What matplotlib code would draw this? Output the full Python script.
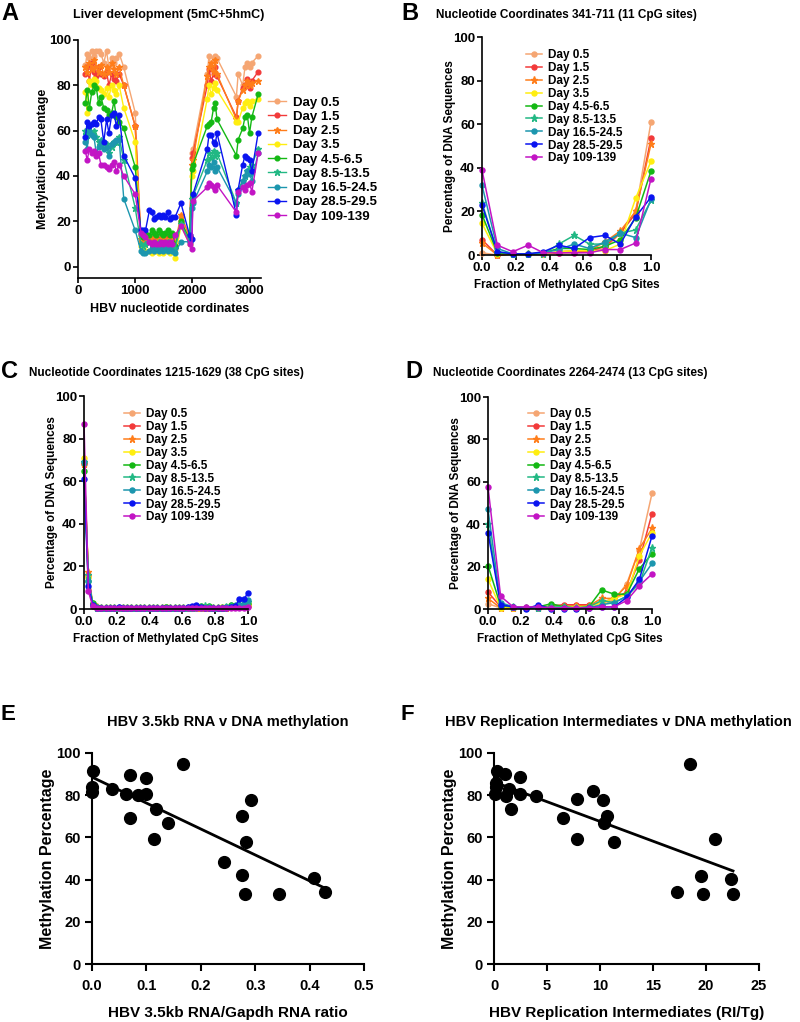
import numpy as np
import matplotlib
matplotlib.use('Agg')
import matplotlib.pyplot as plt

plt.rcParams['font.family'] = ['Liberation Sans', 'DejaVu Sans']
plt.rcParams['font.weight'] = 'bold'
plt.rcParams['axes.labelweight'] = 'bold'

W, H = 800, 1022

# ---- shared series info ----
day_labels = ['Day 0.5', 'Day 1.5', 'Day 2.5', 'Day 3.5', 'Day 4.5-6.5',
              'Day 8.5-13.5', 'Day 16.5-24.5', 'Day 28.5-29.5', 'Day 109-139']
day_colors = ['#f5a673', '#f23a3a', '#ff7d1a', '#ffee10', '#14b814',
              '#22b884', '#1c96ae', '#0a14f0', '#c214c4']
day_markers = ['o', 'o', '*', 'o', 'o', '*', 'o', 'o', 'o']

# ---- panel A: methylation along the HBV genome ----
a_pos = [130, 160, 200, 240, 280, 320, 360, 400, 450, 500, 540, 590, 630, 670, 720,
         800, 1000,
         1100, 1140, 1180, 1250, 1290, 1330, 1370, 1410, 1450, 1490, 1530, 1570, 1610, 1650, 1700,
         1800, 1950, 1990, 2010,
         2260, 2290, 2330, 2370, 2400, 2430,
         2770, 2800, 2880, 2920, 2960, 3000, 3040, 3150]

a_day05 = [89, 94, 92, 95, 93, 95, 95, 94, 90, 95, 88, 92, 90, 92, 94,
           88, 68,
           12, 11, 10, 12, 11, 11, 12, 10, 11, 10, 12, 11, 10, 11, 8,
           22, 14, 50, 52,
           85, 93, 87, 92, 93, 92,
           75, 85, 80, 88, 90, 88, 90, 93]
a_day15 = [85, 88, 82, 90, 86, 84, 88, 85, 84, 86, 80, 85, 83, 82, 85,
           80, 62,
           11, 12, 13, 12, 11, 12, 13, 12, 11, 12, 13, 12, 11, 12, 9,
           20, 12, 48, 50,
           80, 87, 82, 85, 88, 84,
           66, 73, 79, 80, 83, 79, 82, 86]
a_day25 = [88, 86, 90, 87, 91, 88, 86, 89, 85, 88, 86, 90, 87, 85, 88,
           80, 62,
           12, 13, 12, 11, 12, 13, 12, 11, 12, 13, 12, 11, 12, 13, 10,
           23, 13, 45, 47,
           84, 88, 90, 86, 91, 85,
           65, 73, 78, 80, 82, 80, 81, 82]
a_day35 = [77, 68, 82, 80, 83, 82, 79, 78, 76, 79, 75, 80, 78, 76, 80,
           70, 55,
           9, 8, 7, 7, 6, 7, 7, 6, 7, 6, 7, 7, 6, 7, 4,
           18, 10, 40, 42,
           74, 80, 76, 79, 81, 78,
           64, 64, 70, 72, 73, 71, 73, 74]
a_day45 = [72, 78, 70, 77, 80, 79, 72, 75, 70, 69, 67, 68, 73, 66, 64,
           61, 44,
           14, 13, 15, 14, 16, 15, 14, 16, 15, 14, 15, 16, 14, 15, 9,
           20, 12, 43, 45,
           62, 63, 64, 70, 72, 65,
           49, 56, 61, 66, 67, 59, 66, 76]
a_day85 = [60, 58, 62, 59, 60, 57, 55, 56, 54, 54, 50, 53, 55, 55, 57,
           47, 26,
           10, 9, 10, 11, 10, 9, 10, 11, 10, 9, 10, 11, 10, 9, 8,
           19, 11, 30, 31,
           47, 50, 48, 51, 49, 50,
           28, 34, 38, 40, 42, 44, 45, 52]
a_day165 = [55, 52, 60, 58, 57, 50, 53, 55, 52, 53, 49, 54, 55, 56, 56,
            30, 16,
            7, 6, 6, 7, 8, 7, 8, 7, 8, 7, 8, 7, 8, 7, 6,
            11, 11, 26, 28,
            42, 45, 44, 46, 42, 44,
            28, 32, 38, 40, 42, 41, 38, 50]
a_day285 = [57, 64, 62, 63, 64, 63, 66, 65, 55, 65, 59, 67, 68, 62, 67,
            49, 39,
            16, 16, 16, 25, 24, 21, 22, 23, 22, 23, 22, 24, 21, 22, 22,
            28, 14, 12, 32,
            52, 58, 58, 55, 54, 59,
            23, 34, 45, 49, 48, 47, 42, 59]
a_day109 = [51, 47, 52, 50, 51, 49, 50, 45, 45, 44, 43, 45, 46, 42, 45,
            40, 32,
            15, 14, 13, 11, 10, 11, 10, 10, 11, 10, 11, 10, 11, 10, 14,
            18, 10, 8, 29,
            35, 37, 36, 35, 34, 36,
            24, 33, 35, 34, 36, 37, 33, 50]
a_series = [a_day05, a_day15, a_day25, a_day35, a_day45,
            a_day85, a_day165, a_day285, a_day109]

# ---- panel B: 341-711, 11 CpG sites ----
b_day05 = [1, 0, 0.5, 0.5, 0.5, 1, 1, 1.5, 3, 10, 20, 61]
b_day15 = [7, 0, 0.5, 0.5, 0.5, 1, 1.5, 1.5, 4, 10, 19, 53.5]
b_day25 = [5.5, 0, 0.5, 0.5, 0.5, 1.5, 2, 2, 6, 11, 20, 51]
b_day35 = [14.5, 0.5, 0.5, 0.5, 0.5, 1.5, 2, 2, 2, 5, 26, 43]
b_day45 = [18.5, 1, 0.5, 0.5, 1, 3, 3, 2.5, 4, 7, 17, 38.5]
b_day85 = [24, 1.5, 0.5, 0.5, 0.5, 5, 9, 5, 5, 10, 11.5, 25]
b_day165 = [32, 3, 0.5, 0.5, 1, 2.5, 5, 3, 6, 10, 8, 25.5]
b_day285 = [23, 1.5, 0.5, 0.5, 1.5, 4.5, 3, 8, 9, 5, 17.5, 26.5]
b_day109 = [39, 4.5, 1.5, 4.5, 1, 1, 1, 1, 2.5, 2.5, 5.5, 35]
b_series = [b_day05, b_day15, b_day25, b_day35, b_day45,
            b_day85, b_day165, b_day285, b_day109]

# ---- panel C: 1215-1629, 38 CpG sites ----
c_day05 = [69, 15, 2, 0.5, 0.3, 0.3, 0.3, 0.3, 0.3, 0.3, 0.3, 0.3, 0.3, 0.3, 0.3, 0.3, 0.3, 0.3, 0.3, 0.8,
           0.3, 0.3, 0.3, 0.3, 0.3, 0.5, 0.5, 0.5, 0.5, 0.5, 0.5, 0.5, 0.5, 0.5, 1, 1, 1, 1.5, 1.5]
c_day15 = [68, 16, 1.5, 0.5, 0.3, 0.3, 0.3, 0.3, 0.3, 0.3, 0.3, 0.3, 0.3, 0.3, 0.3, 0.3, 0.3, 0.3, 0.3, 0.3,
           0.3, 0.3, 0.5, 0.3, 0.3, 0.5, 0.5, 0.5, 0.5, 0.5, 0.5, 0.3, 0.5, 0.5, 1, 1.5, 1, 2, 1.5]
c_day25 = [68, 17.5, 2.5, 1, 0.3, 0.3, 0.3, 0.3, 0.3, 0.3, 0.3, 0.3, 0.3, 0.3, 0.3, 0.3, 0.3, 0.3, 0.3, 0.3,
           0.3, 0.3, 0.3, 0.3, 0.3, 0.5, 0.5, 0.5, 0.5, 0.5, 0.5, 0.5, 0.5, 0.5, 1.5, 1, 1.5, 2, 2]
c_day35 = [71, 15, 2, 0.5, 0.3, 0.3, 0.3, 0.3, 0.3, 0.3, 0.3, 0.3, 0.3, 0.3, 0.3, 0.3, 0.3, 0.3, 0.3, 0.8,
           0.3, 0.3, 0.3, 0.3, 0.3, 0.5, 0.5, 0.5, 0.5, 0.5, 0.5, 0.5, 0.8, 0.5, 1, 1, 1.5, 1.5, 2]
c_day45 = [65, 13, 3, 1, 0.3, 0.3, 0.3, 0.3, 0.3, 0.3, 0.3, 0.3, 0.3, 0.3, 0.3, 0.3, 0.3, 0.3, 0.5, 1,
           0.5, 0.3, 0.3, 0.3, 0.5, 0.5, 1, 1.5, 1, 1.5, 0.5, 0.5, 0.5, 1, 2, 1.5, 2, 2.5, 3]
c_day85 = [69, 16, 2, 0.5, 0.3, 0.3, 0.3, 0.3, 0.3, 0.3, 0.3, 0.3, 0.3, 0.3, 0.3, 0.3, 0.3, 0.3, 0.3, 0.5,
           0.3, 0.3, 0.3, 0.3, 0.5, 0.5, 0.8, 1, 1.2, 1, 0.5, 0.5, 0.5, 1, 1.5, 1.5, 2, 2.5, 3.5]
c_day165 = [69, 13, 2, 0.5, 0.3, 0.3, 0.3, 0.3, 0.3, 0.3, 0.3, 0.3, 0.3, 0.3, 0.3, 0.3, 0.3, 0.3, 0.3, 0.3,
            0.3, 0.3, 0.3, 0.3, 0.5, 0.5, 0.5, 0.5, 0.5, 0.5, 0.5, 0.5, 0.5, 0.8, 1, 1.5, 2, 2.5, 4]
c_day285 = [61, 11, 2, 0.5, 0.3, 0.3, 0.3, 0.3, 0.8, 0.3, 0.3, 0.3, 0.3, 0.3, 0.3, 0.3, 0.3, 0.3, 0.3, 0.3,
            0.3, 0.3, 0.3, 0.3, 1, 1.5, 2, 1, 0.5, 0.5, 0.5, 0.5, 0.5, 0.5, 1, 1.5, 4.5, 4.5, 7.5]
c_day109 = [87, 8.5, 1.5, 0.3, 0.3, 0.3, 0.3, 0.3, 0.3, 0.3, 0.3, 0.3, 0.3, 0.3, 0.3, 0.3, 0.3, 0.3, 0.3, 0.3,
            0.3, 0.3, 0.3, 0.3, 0.3, 0.3, 0.3, 0.3, 0.3, 0.3, 0.3, 0.3, 0.3, 0.3, 0.5, 0.5, 0.5, 0.3, 1]
c_series = [c_day05, c_day15, c_day25, c_day35, c_day45,
            c_day85, c_day165, c_day285, c_day109]

# ---- panel D: 2264-2474, 13 CpG sites ----
d_day05 = [2.5, 0.5, 0.5, 0.5, 0.5, 1, 1.5, 1.5, 1.5, 2, 4, 12, 28, 54.5]
d_day15 = [8, 1, 0.5, 0.5, 0.5, 1.5, 2, 2, 2, 3, 5, 8, 23, 45]
d_day25 = [5, 0.5, 0.5, 0.5, 0.5, 1, 1, 1.5, 1.5, 5, 5, 11, 28.5, 38]
d_day35 = [14, 0.5, 0.5, 0.5, 0.5, 1, 1, 1, 1, 3, 5, 7, 25, 36]
d_day45 = [20.5, 1.5, 1, 0.5, 1, 2.5, 1, 0.5, 1, 9, 7, 7, 19, 26]
d_day85 = [40, 2, 1, 0.5, 0.5, 1, 1, 0.5, 1, 4, 3, 6, 12, 29]
d_day165 = [47, 3, 1, 0.5, 0.5, 0.5, 0.5, 0.5, 0.5, 2, 3, 6, 13, 21.5]
d_day285 = [36, 2, 1, 0, 2, 0, 0, 0, 0.5, 1, 1, 5.5, 14, 34.5]
d_day109 = [57.5, 6, 1, 1, 1, 0.5, 0.5, 0.5, 0.5, 1, 1, 4, 11, 16.5]
d_series = [d_day05, d_day15, d_day25, d_day35, d_day45,
            d_day85, d_day165, d_day285, d_day109]

# ---- panel E: 3.5kb RNA vs methylation ----
e_rna = [0.002, 0.0, 0.0, 0.037, 0.063, 0.069, 0.070, 0.084, 0.099, 0.099, 0.117,
         0.114, 0.139, 0.167, 0.243, 0.275, 0.292, 0.283, 0.275, 0.281, 0.344, 0.408, 0.428]
e_meth = [91.3, 83.9, 81.3, 82.9, 80.5, 89.7, 69.1, 80.2, 88.1, 80.5, 73.4,
          59.2, 66.8, 94.9, 48.3, 70.3, 77.8, 57.6, 42.2, 33.2, 33.2, 40.7, 34.0]

# ---- panel F: replication intermediates vs methylation ----
f_ri = [0.06, 0.16, 0.31, 0.22, 1.0, 1.1, 1.42, 1.64, 2.42, 2.42, 3.93, 6.51, 7.8,
        7.8, 9.34, 10.28, 10.66, 10.38, 11.29, 17.26, 18.46, 19.56, 19.72, 20.82, 22.39, 22.55]
f_meth = [80.5, 83.9, 91.3, 85.8, 90.2, 79.7, 82.9, 73.4, 88.4, 80.5, 79.7, 69.1, 78.2,
          59.2, 81.8, 77.8, 70.3, 66.8, 57.6, 34.0, 94.9, 41.9, 33.2, 59.2, 40.3, 33.2]


def px_axes(fig, left, top, right, bottom):
    return fig.add_axes([left / W, 1 - bottom / H, (right - left) / W, (bottom - top) / H])


def prism_style(ax, lw=1.2, tick_size=9.5, tick_len=3.5, xpad=1.5, ypad=1.5):
    ax.spines['top'].set_visible(False)
    ax.spines['right'].set_visible(False)
    ax.spines['left'].set_linewidth(lw)
    ax.spines['bottom'].set_linewidth(lw)
    ax.tick_params(width=lw, length=tick_len, labelsize=tick_size)
    ax.tick_params(axis='x', pad=xpad)
    ax.tick_params(axis='y', pad=ypad)
    for lab in ax.get_xticklabels() + ax.get_yticklabels():
        lab.set_fontweight('bold')


def draw_profiles(ax, xs, series, ms=3.6, lw=1.1):
    for vals, lab, col, mk in zip(series, day_labels, day_colors, day_markers):
        ax.plot(xs, vals, color=col, marker=mk, markersize=ms if mk == 'o' else ms + 1.5,
                linewidth=lw, label=lab, clip_on=False)


def fig_text(x, y, s, size, ha='center'):
    fig.text(x / W, 1 - y / H, s, fontsize=size, fontweight='bold', ha=ha, va='center')


fig = plt.figure(figsize=(W / 100, H / 100), dpi=100)

# panel A
axA = px_axes(fig, 78, 40, 261, 278)
draw_profiles(axA, a_pos, a_series, ms=3.4, lw=1.0)
axA.set_xlim(0, 3200)
axA.set_ylim(-5, 100)
axA.set_xticks([0, 1000, 2000, 3000])
axA.set_yticks([0, 20, 40, 60, 80, 100])
axA.set_xlabel('HBV nucleotide cordinates', fontsize=9, labelpad=4)
axA.set_ylabel('Methylation Percentage', fontsize=9, labelpad=0)
prism_style(axA)
axA.legend(loc='upper left', bbox_to_anchor=(261 / W, 1 - 90 / H), bbox_transform=fig.transFigure,
           frameon=False, fontsize=9.5, handlelength=1.4, handletextpad=0.5, labelspacing=0.15,
           borderpad=0)
fig_text(169, 15, 'Liver development (5mC+5hmC)', 9)
fig_text(1, 13, 'A', 17, ha='left')

# panels B, C, D share the same histogram style
hist_panels = [
    (b_series, 11, (482, 37, 651, 255), 'Nucleotide Coordinates 341-711 (11 CpG sites)', (566, 15), 'B', (401, 13), (520, 43)),
    (c_series, 38, (84, 396, 248, 609), 'Nucleotide Coordinates 1215-1629 (38 CpG sites)', (166, 373), 'C', (1, 372), (118, 402)),
    (d_series, 13, (488, 397, 652, 609), 'Nucleotide Coordinates 2264-2474 (13 CpG sites)', (570, 373), 'D', (405, 372), (522, 402)),
]
for series, n_sites, box, title, tpos, letter, lpos, legpos in hist_panels:
    ax = px_axes(fig, *box)
    xs = np.arange(n_sites + 1) / n_sites
    draw_profiles(ax, xs, series, ms=3.6, lw=1.1)
    ax.set_xlim(0, 1)
    ax.set_ylim(0, 100)
    ax.set_xticks([0, 0.2, 0.4, 0.6, 0.8, 1.0])
    ax.set_xticklabels(['0.0', '0.2', '0.4', '0.6', '0.8', '1.0'])
    ax.set_yticks([0, 20, 40, 60, 80, 100])
    ax.set_xlabel('Fraction of Methylated CpG Sites', fontsize=8.5, labelpad=3.5)
    ax.set_ylabel('Percentage of DNA Sequences', fontsize=8.5, labelpad=-2)
    prism_style(ax, tick_size=9.5)
    ax.legend(loc='upper left', bbox_to_anchor=(legpos[0] / W, 1 - legpos[1] / H),
              bbox_transform=fig.transFigure, frameon=False, fontsize=8.5, handlelength=1.4,
              handletextpad=0.5, labelspacing=0.08, borderpad=0)
    fig_text(tpos[0], tpos[1], title, 8.5)
    fig_text(lpos[0], lpos[1], letter, 17, ha='left')

# panels E and F: scatter with linear fit
scatter_panels = [
    (e_rna, e_meth, (92, 753, 364, 964), [0, 0.1, 0.2, 0.3, 0.4, 0.5], (0, 0.5),
     ['0.0', '0.1', '0.2', '0.3', '0.4', '0.5'], 'HBV 3.5kb RNA/Gapdh RNA ratio',
     'HBV 3.5kb RNA v DNA methylation', (228, 722), 'E', (1, 714)),
    (f_ri, f_meth, (494, 753, 759, 964), [0, 5, 10, 15, 20, 25], (0, 25),
     ['0', '5', '10', '15', '20', '25'], 'HBV Replication Intermediates (RI/Tg)',
     'HBV Replication Intermediates v DNA methylation', (618, 722), 'F', (401, 714)),
]
for xv, yv, box, xticks, xlim, xticklabels, xlabel, title, tpos, letter, lpos in scatter_panels:
    ax = px_axes(fig, *box)
    xv = np.array(xv)
    yv = np.array(yv)
    slope, intercept = np.polyfit(xv, yv, 1)
    fit_x = np.array([xv.min(), xv.max()])
    ax.plot(fit_x, slope * fit_x + intercept, color='black', linewidth=2.0, zorder=2)
    ax.scatter(xv, yv, s=72, color='black', zorder=3, clip_on=False)
    ax.set_xlim(*xlim)
    ax.set_ylim(0, 100)
    ax.set_xticks(xticks)
    ax.set_xticklabels(xticklabels)
    ax.set_yticks([0, 20, 40, 60, 80, 100])
    ax.set_xlabel(xlabel, fontsize=11, labelpad=9)
    ax.set_ylabel('Methylation Percentage', fontsize=11.5, labelpad=1)
    prism_style(ax, lw=1.5, tick_size=10.5, tick_len=5, xpad=6, ypad=3)
    fig_text(tpos[0], tpos[1], title, 10.5)
    fig_text(lpos[0], lpos[1], letter, 16, ha='left')

fig.savefig('out.png', dpi=100)
